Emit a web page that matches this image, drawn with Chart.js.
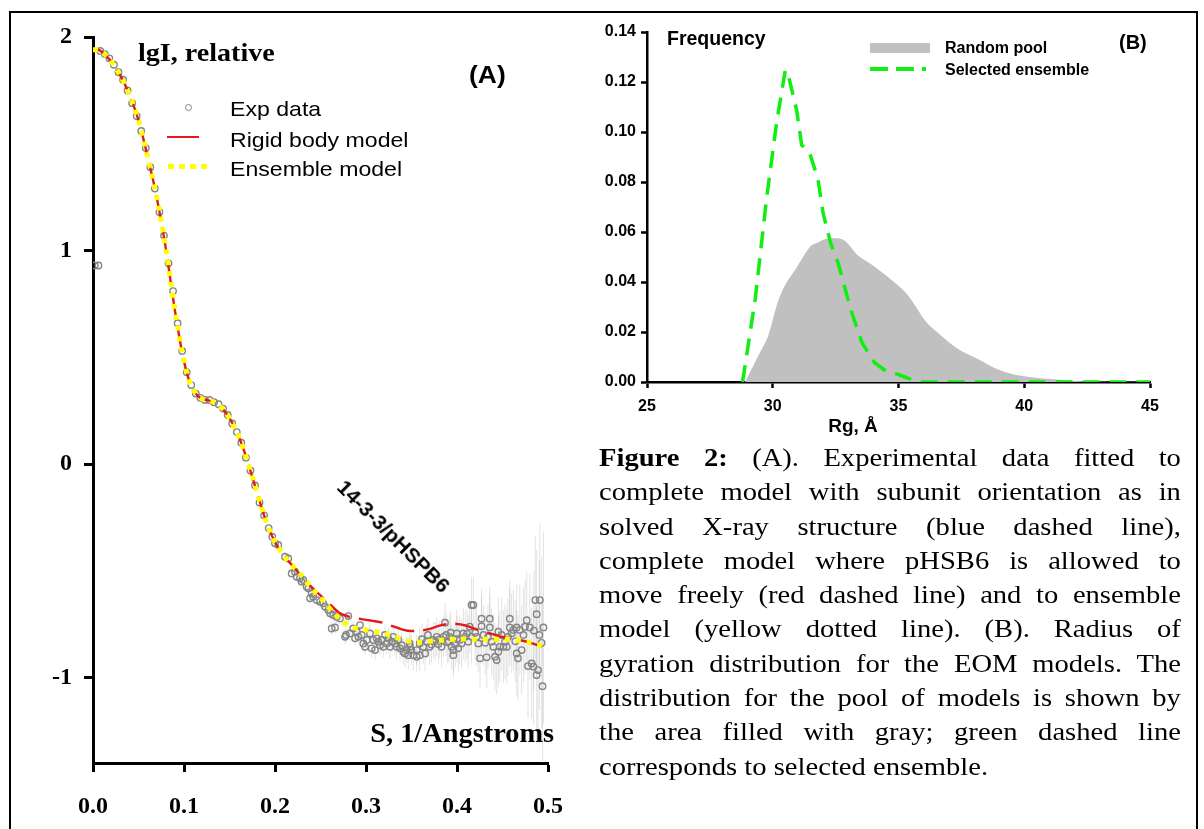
<!DOCTYPE html>
<html>
<head>
<meta charset="utf-8">
<script src="https://cdn.jsdelivr.net/npm/chart.js@4"></script>
<style>
  body { margin: 0; background: #fff; }
  #page { position: relative; width: 1204px; height: 829px; overflow: hidden; background: #fff; }
  #frame { position: absolute; left: 9px; top: 11px; width: 1185px; height: 840px; border: 2px solid #000; }
  canvas { position: absolute; }
  .t { position: absolute; white-space: nowrap; line-height: 1; color: #000; transform-origin: left top; }
  .serif { font-family: 'Liberation Serif', 'Times New Roman', serif; }
  .sans { font-family: 'Liberation Sans', Arial, sans-serif; }
  #caption { position: absolute; left: 599px; top: 441px; width: 529px; font-size: 26px; color: #000;
             transform: scaleX(1.1); transform-origin: left top; }
  #caption .ln { height: 34.3px; line-height: 34.3px; text-align: justify; text-align-last: justify; white-space: nowrap; }
  #caption .ln.last { text-align-last: left; }
</style>
</head>
<body>
<div id="page">
  <div id="frame"></div>
  <canvas id="chartA" width="600" height="829" style="left:0;top:0;"></canvas>
  <canvas id="chartB" width="620" height="440" style="left:580px;top:0;"></canvas>

  <!-- panel A labels -->
  <div class="t serif" style="left:138px;top:40px;font-size:26px;font-weight:bold;transform:scaleX(1.08);">lgI, relative</div>
  <div class="t sans" style="left:469px;top:64px;font-size:23px;font-weight:bold;transform:scaleX(1.15);">(A)</div>
  <span style="position:absolute;left:185px;top:104px;width:5px;height:5px;border:1.5px solid #858585;border-radius:50%;"></span>
  <div class="t sans" style="left:230px;top:98px;font-size:21px;transform:scaleX(1.1);">Exp data</div>
  <span style="position:absolute;left:167px;top:136px;width:32px;height:2px;background:#e31a1c;"></span>
  <div class="t sans" style="left:230px;top:129px;font-size:21px;transform:scaleX(1.1);">Rigid body model</div>
  <span style="position:absolute;left:168px;top:164px;width:39px;height:5px;background:repeating-linear-gradient(90deg,#ffff00 0 6px,transparent 6px 11px);"></span>
  <div class="t sans" style="left:230px;top:158px;font-size:21px;transform:scaleX(1.1);">Ensemble model</div>
  <div class="t sans" style="left:394px;top:536px;font-size:21px;font-weight:bold;transform-origin:center;transform:translate(-50%,-50%) rotate(45deg);">14-3-3/pHSPB6</div>
  <div class="t serif" style="right:650px;top:720px;font-size:27px;font-weight:bold;transform-origin:right top;transform:scaleX(1.05);">S, 1/Angstroms</div>

  <!-- panel B labels -->
  <div class="t sans" style="left:667px;top:29px;font-size:19.5px;font-weight:bold;">Frequency</div>
  <div class="t sans" style="left:1119px;top:32px;font-size:20px;font-weight:bold;">(B)</div>
  <span style="position:absolute;left:870px;top:43px;width:60px;height:10px;background:#c0c0c0;"></span>
  <div class="t sans" style="left:945px;top:40px;font-size:16px;font-weight:bold;">Random pool</div>
  <span style="position:absolute;left:870px;top:67px;width:56px;height:3.5px;background:repeating-linear-gradient(90deg,#11ee11 0 18px,transparent 18px 26px);"></span>
  <div class="t sans" style="left:945px;top:62px;font-size:16px;font-weight:bold;">Selected ensemble</div>
  <div class="t sans" style="left:853px;top:416px;font-size:19px;font-weight:bold;transform:translateX(-50%);">Rg, Å</div>

  <div id="caption" class="serif">
    <div class="ln"><b>Figure 2:</b> (A). Experimental data fitted to</div>
    <div class="ln">complete model with subunit orientation as in</div>
    <div class="ln">solved X-ray structure (blue dashed line),</div>
    <div class="ln">complete model where pHSB6 is allowed to</div>
    <div class="ln">move freely (red dashed line) and to ensemble</div>
    <div class="ln">model (yellow dotted line). (B). Radius of</div>
    <div class="ln">gyration distribution for the EOM models. The</div>
    <div class="ln">distribution for the pool of models is shown by</div>
    <div class="ln">the area filled with gray; green dashed line</div>
    <div class="ln last">corresponds to selected ensemble.</div>
  </div>
</div>

<script>
// ---- panel A data ----
const sTicks = [0, 0.1, 0.2, 0.3, 0.4, 0.5];
const lgTicks = [-1, 0, 1, 2];

const modelS = [0, 0.005, 0.01, 0.02, 0.03, 0.04, 0.05, 0.06, 0.07, 0.08, 0.09, 0.10, 0.105, 0.11, 0.115, 0.12, 0.125,
  0.13, 0.135, 0.14, 0.145, 0.15, 0.155, 0.16, 0.165, 0.17, 0.175, 0.18, 0.185, 0.19, 0.195, 0.20, 0.21, 0.22,
  0.23, 0.24, 0.25, 0.26, 0.27, 0.28, 0.29, 0.30, 0.31, 0.32, 0.33, 0.34, 0.35, 0.36, 0.37, 0.38, 0.39, 0.40,
  0.41, 0.42, 0.43, 0.44, 0.45, 0.46, 0.47, 0.48, 0.49, 0.50];

const ensembleI = [1.94, 1.94, 1.93, 1.885, 1.82, 1.73, 1.61, 1.44, 1.25, 1.01, 0.72, 0.48, 0.40, 0.35, 0.32, 0.305, 0.30,
  0.295, 0.285, 0.27, 0.245, 0.215, 0.175, 0.13, 0.075, 0.01, -0.06, -0.13, -0.20, -0.265, -0.32, -0.365, -0.43, -0.48,
  -0.525, -0.58, -0.625, -0.676, -0.72, -0.755, -0.77, -0.776, -0.784, -0.793, -0.808, -0.82, -0.832, -0.834, -0.83, -0.826, -0.822, -0.82,
  -0.818, -0.82, -0.82, -0.82, -0.82, -0.822, -0.827, -0.836, -0.848, -0.865];

const rigidI = [1.94, 1.94, 1.93, 1.885, 1.82, 1.73, 1.61, 1.44, 1.25, 1.01, 0.72, 0.48, 0.40, 0.35, 0.32, 0.305, 0.30,
  0.295, 0.285, 0.27, 0.245, 0.215, 0.175, 0.13, 0.075, 0.01, -0.06, -0.13, -0.20, -0.265, -0.32, -0.365, -0.43, -0.48,
  -0.53, -0.575, -0.615, -0.655, -0.695, -0.713, -0.722, -0.73, -0.736, -0.745, -0.76, -0.775, -0.782, -0.78, -0.772, -0.758, -0.749, -0.749,
  -0.757, -0.772, -0.785, -0.798, -0.81, -0.818, -0.825, -0.836, -0.85, -0.865];

// experimental points: [s, lgI, error]
const expData = [
  [0.002, 0.93], [0.006, 0.93],
  [0.008, 1.935], [0.013, 1.92], [0.018, 1.9], [0.023, 1.87], [0.028, 1.835], [0.033, 1.8], [0.038, 1.75], [0.043, 1.69],
  [0.048, 1.63], [0.053, 1.56], [0.058, 1.48], [0.063, 1.39], [0.068, 1.29], [0.073, 1.18], [0.078, 1.07], [0.083, 0.94],
  [0.088, 0.81], [0.093, 0.66], [0.098, 0.53], [0.103, 0.43], [0.108, 0.37], [0.113, 0.33], [0.118, 0.31], [0.123, 0.3],
  [0.128, 0.3], [0.133, 0.29], [0.138, 0.28], [0.143, 0.26], [0.148, 0.23], [0.153, 0.19], [0.158, 0.15], [0.163, 0.1],
  [0.168, 0.03], [0.173, -0.03], [0.178, -0.1], [0.183, -0.18], [0.188, -0.24], [0.193, -0.3], [0.197, -0.34],
  [0.200, -0.371, 0.02], [0.2036, -0.379, 0.02], [0.211, -0.434, 0.02], [0.2146, -0.442, 0.02], [0.2183, -0.512, 0.02],
  [0.222, -0.504, 0.02], [0.2238, -0.528, 0.02], [0.2275, -0.535, 0.02], [0.2293, -0.551, 0.025], [0.2311, -0.543, 0.025],
  [0.2348, -0.575, 0.025], [0.2366, -0.582, 0.025], [0.2403, -0.606, 0.025], [0.2385, -0.629, 0.025], [0.242, -0.621, 0.025],
  [0.2458, -0.637, 0.025], [0.2495, -0.645, 0.03], [0.253, -0.652, 0.03], [0.255, -0.668, 0.03], [0.2586, -0.684, 0.03],
  [0.2604, -0.699, 0.03], [0.264, -0.707, 0.03], [0.2678, -0.715, 0.03], [0.2714, -0.723, 0.03], [0.2623, -0.770, 0.03],
  [0.266, -0.765, 0.03], [0.2806, -0.712, 0.035], [0.277, -0.809, 0.035], [0.278, -0.80, 0.035], [0.2824, -0.793, 0.035],
  [0.286, -0.77, 0.035], [0.288, -0.816, 0.035], [0.2898, -0.785, 0.035], [0.2916, -0.809, 0.035], [0.2934, -0.754, 0.04],
  [0.2953, -0.80, 0.04], [0.297, -0.84, 0.04], [0.299, -0.856, 0.04],
  [0.3008, -0.824, 0.04], [0.3044, -0.793, 0.04], [0.3063, -0.863, 0.045], [0.308, -0.824, 0.04], [0.31, -0.871, 0.045],
  [0.3118, -0.816, 0.04], [0.3135, -0.832, 0.05], [0.3154, -0.848, 0.045], [0.3172, -0.824, 0.05], [0.319, -0.856, 0.05],
  [0.3209, -0.80, 0.05], [0.3227, -0.84, 0.05], [0.3245, -0.816, 0.05], [0.3264, -0.856, 0.055], [0.3282, -0.832, 0.05],
  [0.33, -0.809, 0.055], [0.3319, -0.84, 0.055], [0.3337, -0.856, 0.06], [0.3355, -0.824, 0.055], [0.3374, -0.863, 0.06],
  [0.3392, -0.848, 0.06], [0.341, -0.879, 0.06], [0.3429, -0.887, 0.065], [0.3447, -0.871, 0.06], [0.3465, -0.895, 0.065],
  [0.3484, -0.856, 0.065], [0.348, -0.84, 0.065], [0.350, -0.871, 0.07], [0.352, -0.895, 0.07], [0.3557, -0.871, 0.07],
  [0.3557, -0.902, 0.07], [0.359, -0.84, 0.075], [0.359, -0.895, 0.075], [0.3615, -0.82, 0.075], [0.363, -0.856, 0.08],
  [0.365, -0.887, 0.08], [0.3667, -0.832, 0.08], [0.368, -0.80, 0.08], [0.370, -0.856, 0.085], [0.372, -0.845, 0.085],
  [0.374, -0.824, 0.085], [0.376, -0.83, 0.09], [0.3777, -0.809, 0.09], [0.3795, -0.843, 0.09], [0.381, -0.82, 0.09],
  [0.383, -0.856, 0.095], [0.385, -0.809, 0.095], [0.3868, -0.743, 0.095], [0.388, -0.80, 0.1], [0.3894, -0.834, 0.1],
  [0.391, -0.83, 0.1], [0.392, -0.809, 0.1], [0.393, -0.79, 0.1], [0.394, -0.856, 0.105], [0.396, -0.871, 0.105],
  [0.396, -0.895, 0.105], [0.398, -0.843, 0.11], [0.3997, -0.793, 0.11], [0.4, -0.82, 0.11], [0.4014, -0.863, 0.11],
  [0.403, -0.824, 0.115], [0.405, -0.84, 0.115], [0.407, -0.793, 0.12], [0.409, -0.809, 0.12], [0.411, -0.795, 0.12],
  [0.4124, -0.832, 0.125], [0.414, -0.762, 0.125], [0.416, -0.66, 0.13], [0.418, -0.66, 0.13], [0.416, -0.809, 0.13],
  [0.42, -0.79, 0.13], [0.4216, -0.809, 0.135], [0.4234, -0.84, 0.135], [0.4253, -0.91, 0.14], [0.427, -0.724, 0.14],
  [0.427, -0.759, 0.14], [0.429, -0.80, 0.14], [0.431, -0.837, 0.145], [0.4326, -0.905, 0.145], [0.434, -0.81, 0.15],
  [0.436, -0.724, 0.15], [0.436, -0.765, 0.15], [0.438, -0.832, 0.155], [0.44, -0.856, 0.155], [0.4418, -0.902, 0.16],
  [0.4436, -0.918, 0.16], [0.4454, -0.785, 0.16], [0.4454, -0.879, 0.165], [0.447, -0.856, 0.165], [0.449, -0.80, 0.17],
  [0.451, -0.856, 0.17], [0.4527, -0.832, 0.175], [0.4546, -0.856, 0.175], [0.456, -0.81, 0.18], [0.458, -0.724, 0.18],
  [0.458, -0.765, 0.18], [0.46, -0.793, 0.185], [0.462, -0.777, 0.19], [0.464, -0.83, 0.19], [0.4656, -0.765, 0.2],
  [0.4656, -0.887, 0.2], [0.467, -0.91, 0.2], [0.469, -0.777, 0.21], [0.471, -0.871, 0.21], [0.473, -0.80, 0.22],
  [0.4747, -0.762, 0.22], [0.4766, -0.731, 0.23], [0.478, -0.946, 0.24], [0.480, -0.765, 0.25], [0.482, -0.934, 0.26],
  [0.484, -0.949, 0.27], [0.4845, -0.78, 0.28], [0.486, -0.637, 0.3], [0.4875, -0.703, 0.3], [0.4875, -0.988, 0.32],
  [0.489, -0.965, 0.33], [0.4905, -0.80, 0.35], [0.491, -0.637, 0.36], [0.493, -0.837, 0.4], [0.494, -1.04, 0.42],
  [0.495, -0.765, 0.45]
];

// ---- panel B data ----
const rgTicks = [25, 30, 35, 40, 45];
const freqTicks = [0, 0.02, 0.04, 0.06, 0.08, 0.10, 0.12, 0.14];

const poolRg = [28.9, 29.4, 29.8, 30.2, 30.5, 30.9, 31.5, 31.8, 32.1, 32.8, 33.4, 34.0, 34.7, 35.3, 35.7, 36.1,
  36.7, 37.4, 38.2, 38.8, 39.4, 40.2, 41.3, 42.3, 45];
const poolFreq = [0, 0.010, 0.018, 0.032, 0.039, 0.045, 0.0543, 0.0558, 0.0572, 0.0569, 0.0505, 0.0465, 0.041, 0.0356,
  0.030, 0.024, 0.0185, 0.013, 0.009, 0.0057, 0.0035, 0.002, 0.001, 0.0003, 0];

const selRg = [28.8, 29.3, 29.75, 30.15, 30.5, 30.65, 30.95, 31.15, 31.45, 31.8, 32.0, 32.3, 32.6, 33.1, 33.55, 34.05,
  34.5, 35.0, 35.5, 35.8, 45];
const selFreq = [0, 0.033, 0.073, 0.1035, 0.1248, 0.1214, 0.1088, 0.0948, 0.0922, 0.081, 0.0676, 0.0556, 0.0476, 0.029,
  0.0157, 0.0077, 0.0044, 0.003, 0.001, 0, 0];

Chart.defaults.animation = false;
Chart.defaults.color = '#000';

const pts = (xs, ys) => xs.map((x, i) => ({ x: x, y: ys[i] }));

// faint vertical error bars under the experimental points
const errBars = {
  id: 'errBars',
  beforeDatasetsDraw(chart) {
    const { ctx, chartArea, scales: { x, y } } = chart;
    ctx.save();
    ctx.beginPath();
    ctx.rect(chartArea.left, chartArea.top, chartArea.right - chartArea.left, chartArea.bottom - chartArea.top);
    ctx.clip();
    ctx.strokeStyle = 'rgba(175,175,175,0.35)';
    ctx.lineWidth = 1;
    expData.forEach(p => {
      if (p.length < 3) return;
      const px = x.getPixelForValue(p[0]);
      ctx.beginPath();
      ctx.moveTo(px, y.getPixelForValue(p[1] - p[2]));
      ctx.lineTo(px, y.getPixelForValue(p[1] + p[2]));
      ctx.stroke();
    });
    ctx.restore();
  }
};

const serifBold = { family: 'Liberation Serif', size: 24, weight: 'bold' };
const sansBold = { family: 'Liberation Sans', size: 16, weight: 'bold' };

new Chart(document.getElementById('chartA'), {
  type: 'line',
  data: {
    datasets: [
      {
        label: 'Ensemble model',
        data: pts(modelS, ensembleI),
        borderColor: '#ffff00',
        borderWidth: 5,
        borderDash: [5, 6],
        pointRadius: 0,
        cubicInterpolationMode: 'monotone',
        order: 1
      },
      {
        label: 'Rigid body model',
        data: pts(modelS, rigidI),
        borderColor: '#e31a1c',
        borderWidth: 2.4,
        borderDash: [24, 9],
        pointRadius: 0,
        cubicInterpolationMode: 'monotone',
        order: 2
      },
      {
        label: 'Exp data',
        data: expData.map(p => ({ x: p[0], y: p[1] })),
        showLine: false,
        pointRadius: 3.2,
        pointBorderWidth: 1.4,
        pointBorderColor: '#858585',
        pointBackgroundColor: 'rgba(0,0,0,0)',
        order: 3
      }
    ]
  },
  options: {
    responsive: false,
    layout: { padding: { left: 0, top: 37, right: 52, bottom: 0 } },
    plugins: { legend: { display: false }, tooltip: { enabled: false } },
    scales: {
      x: {
        type: 'linear',
        min: 0,
        max: 0.5,
        afterBuildTicks: s => { s.ticks = sTicks.map(v => ({ value: v })); },
        afterFit: s => { s.height = 66; },
        grid: { drawOnChartArea: false, drawTicks: true, tickLength: 9, tickWidth: 3, tickColor: '#000' },
        border: { color: '#000', width: 3 },
        ticks: { font: serifBold, padding: 20, maxRotation: 0, autoSkip: false, callback: v => v.toFixed(1) }
      },
      y: {
        type: 'linear',
        min: -1.4,
        max: 2,
        afterBuildTicks: s => { s.ticks = lgTicks.map(v => ({ value: v })); },
        afterFit: s => { s.width = 93; },
        grid: { drawOnChartArea: false, drawTicks: true, tickLength: 9, tickWidth: 3, tickColor: '#000' },
        border: { color: '#000', width: 3 },
        ticks: { font: serifBold, padding: 12, autoSkip: false, callback: v => String(v) }
      }
    }
  },
  plugins: [errBars]
});

new Chart(document.getElementById('chartB'), {
  type: 'line',
  data: {
    datasets: [
      {
        label: 'Selected ensemble',
        data: pts(selRg, selFreq),
        borderColor: '#11ee11',
        borderWidth: 3.5,
        borderDash: [17, 10],
        pointRadius: 0,
        tension: 0,
        order: 0
      },
      {
        label: 'Random pool',
        data: pts(poolRg, poolFreq),
        borderWidth: 0,
        backgroundColor: '#c0c0c0',
        fill: 'origin',
        pointRadius: 0,
        tension: 0.3,
        order: 1
      }
    ]
  },
  options: {
    responsive: false,
    layout: { padding: { left: 0, top: 32, right: 50, bottom: 0 } },
    plugins: { legend: { display: false }, tooltip: { enabled: false } },
    scales: {
      x: {
        type: 'linear',
        min: 25,
        max: 45,
        afterBuildTicks: s => { s.ticks = rgTicks.map(v => ({ value: v })); },
        afterFit: s => { s.height = 58; },
        grid: { drawOnChartArea: false, drawTicks: true, tickLength: 6, tickWidth: 2.5, tickColor: '#000' },
        border: { color: '#000', width: 2.5 },
        ticks: { font: sansBold, padding: 9, maxRotation: 0, autoSkip: false, callback: v => String(v) }
      },
      y: {
        type: 'linear',
        min: 0,
        max: 0.14,
        afterBuildTicks: s => { s.ticks = freqTicks.map(v => ({ value: v })); },
        afterFit: s => { s.width = 67; },
        grid: { drawOnChartArea: false, drawTicks: true, tickLength: 6, tickWidth: 2.5, tickColor: '#000' },
        border: { color: '#000', width: 2.5 },
        ticks: { font: sansBold, padding: 5, autoSkip: false, callback: v => v.toFixed(2) }
      }
    }
  }
});
</script>
</body>
</html>
